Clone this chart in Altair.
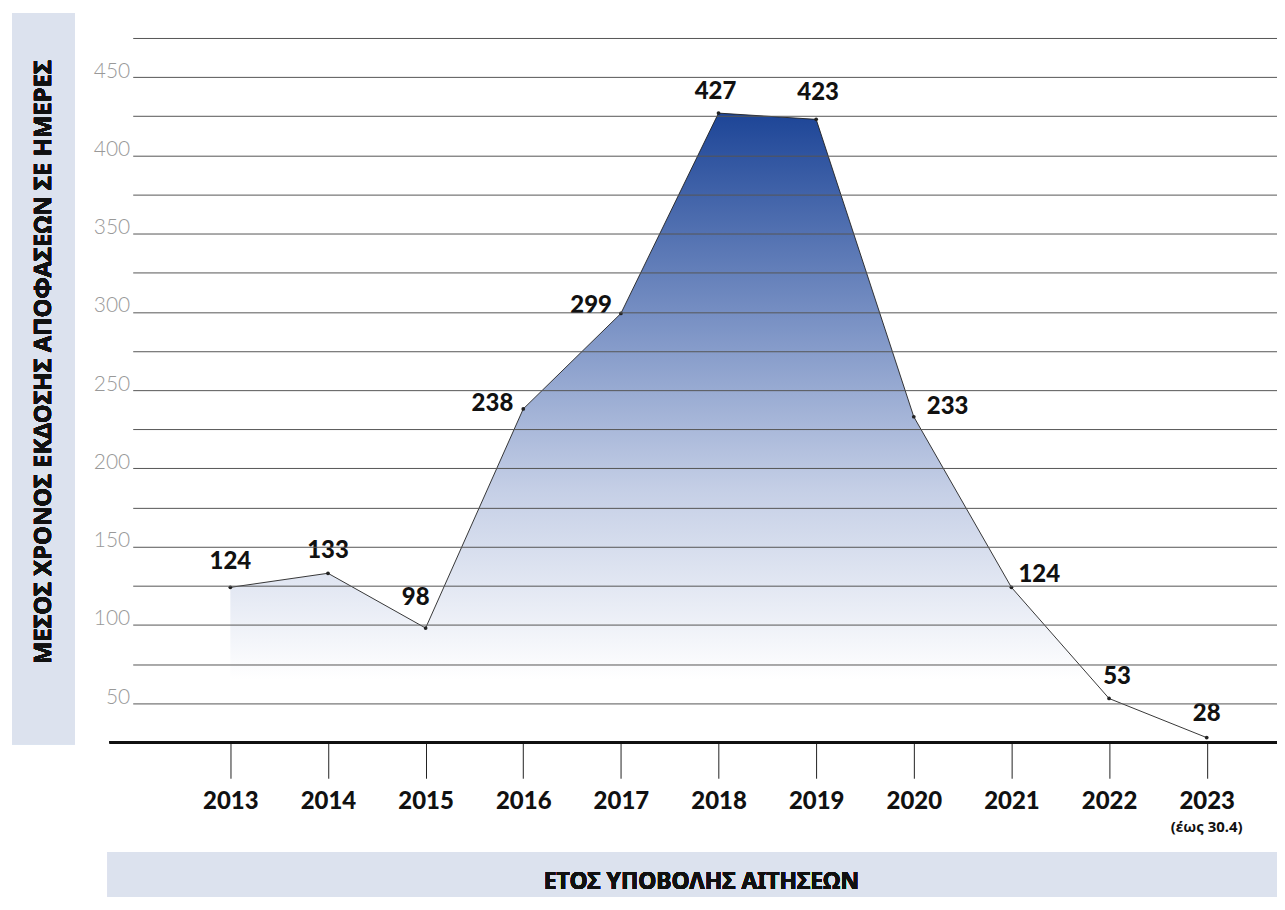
import altair as alt
import pandas as pd

years = [2013, 2014, 2015, 2016, 2017, 2018, 2019, 2020, 2021, 2022, 2023]
days = [124, 133, 98, 238, 299, 427, 423, 233, 124, 53, 28]
y_title = "ΜΕΣΟΣ ΧΡΟΝΟΣ ΕΚΔΟΣΗΣ ΑΠΟΦΑΣΕΩΝ ΣΕ ΗΜΕΡΕΣ"
x_title = "ΕΤΟΣ ΥΠΟΒΟΛΗΣ ΑΙΤΗΣΕΩΝ"
note_2023 = "(έως 30.4)"
grid_values = list(range(50, 476, 25))

# label placement (style only)
label_dx = [0, 0, -10, -10, -9, -3, 2, 13, 7, 8, 0]
label_dy = [-25, -22, -30, -5, -7, -21, -26, -10, -12, -22, -24]
label_align = ["center", "center", "center", "right", "right", "center", "center", "left", "left", "center", "center"]

df = pd.DataFrame({"year": years, "days": days})

W, H = 1147, 706
FONT = "Lato"
GFONT = "Noto Sans"
BOX = "#dce2ee"

xs = alt.Scale(domain=[2012, 2023.72], nice=False, zero=False)
ys = alt.Scale(domain=[25, 475], nice=False, zero=False)

x_axis = alt.Axis(values=years, format="d", title=None,
                  grid=False, domain=False, ticks=True, tickSize=36, tickColor="#222",
                  tickWidth=1, labelFont=FONT, labelFontSize=24, labelFontWeight=900,
                  labelColor="#111", labelPadding=11)
y_axis = alt.Axis(values=grid_values, labelExpr="datum.value % 50 == 0 ? datum.label : ''",
                  title=None, grid=True, gridColor="#555", gridWidth=1, domain=False,
                  ticks=False, labelFont=FONT, labelFontSize=21, labelFontWeight=300,
                  labelColor="#999", labelPadding=3, labelBaseline="alphabetic", zindex=1)

base = alt.Chart(df)

ybox = base.mark_rect(color=BOX).encode(
    x=alt.value(-121), x2=alt.value(-58), y=alt.value(-25), y2=alt.value(708))
ytext = base.mark_text(text=y_title, angle=270, font=GFONT, fontSize=24, fontWeight="bold",
                       color="#111", align="center", baseline="middle").encode(
    x=alt.value(-89), y=alt.value(325))
xbox = base.mark_rect(color=BOX).encode(
    x=alt.value(-25), x2=alt.value(W + 10), y=alt.value(816), y2=alt.value(861))
xtext = base.mark_text(text=x_title, font=GFONT, fontSize=23, fontWeight="bold",
                       color="#111", align="center", baseline="middle").encode(
    x=alt.value(570), y=alt.value(846))

area = base.mark_area(
    color=alt.Gradient(gradient="linear",
                       stops=[alt.GradientStop(color="#1d4597", offset=0),
                              alt.GradientStop(color="#7f96c7", offset=0.35),
                              alt.GradientStop(color="#c5cfe6", offset=0.6),
                              alt.GradientStop(color="#ffffff", offset=0.9)],
                       x1=1, x2=1, y1=0, y2=1)
).encode(
    x=alt.X("year:Q", scale=xs, axis=x_axis),
    y=alt.Y("days:Q", scale=ys, axis=y_axis),
    y2=alt.datum(25),
)

line = base.mark_line(color="#222", strokeWidth=0.9).encode(
    x=alt.X("year:Q", scale=xs), y=alt.Y("days:Q", scale=ys))
pts = base.mark_circle(color="#222", size=14, opacity=1).encode(
    x=alt.X("year:Q", scale=xs), y=alt.Y("days:Q", scale=ys))

labels = []
for i, (yr, d) in enumerate(zip(years, days)):
    labels.append(
        alt.Chart(pd.DataFrame({"year": [yr], "days": [d]})).mark_text(
            font=FONT, fontSize=24, fontWeight=900, color="#111",
            align=label_align[i], baseline="middle", dx=label_dx[i], dy=label_dy[i]
        ).encode(x=alt.X("year:Q", scale=xs), y=alt.Y("days:Q", scale=ys), text="days:Q")
    )

baseline = base.mark_rule(color="#111", strokeWidth=2.5).encode(
    y=alt.datum(25), x=alt.value(-23), x2=alt.value(W))

note = alt.Chart(pd.DataFrame({"year": [2023], "t": [note_2023]})).mark_text(
    font=GFONT, fontSize=15, fontWeight="bold", color="#111", align="center", baseline="middle"
).encode(x=alt.X("year:Q", scale=xs), y=alt.value(791), text="t:N")

chart = alt.layer(ybox, ytext, xbox, xtext, area, line, pts, baseline, note, *labels).properties(
    width=W, height=H,
    autosize=alt.AutoSizeParams(type="none"),
    padding={"left": 125, "top": 29, "right": 0, "bottom": 155},
).configure_view(stroke=None)

chart.save("out.html", embed_options={"renderer": "svg", "actions": False})
